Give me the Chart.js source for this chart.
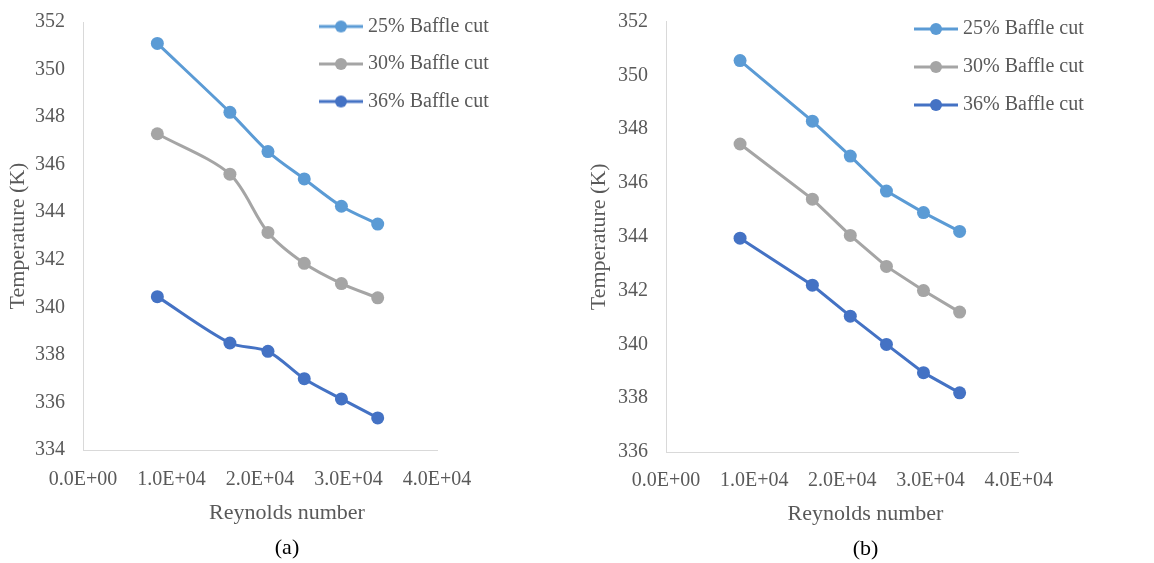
<!DOCTYPE html>
<html>
<head>
<meta charset="utf-8">
<script src="https://cdn.jsdelivr.net/npm/chart.js@4.4.1/dist/chart.umd.min.js"></script>
<style>
  body { margin: 0; background: #fff; width: 1154px; height: 563px; overflow: hidden; position: relative; }
  canvas { position: absolute; top: 0; }
  #chartA { left: 0; }
  #chartB { left: 577px; }
</style>
</head>
<body>
<canvas id="chartA" width="574" height="563"></canvas>
<canvas id="chartB" width="577" height="563"></canvas>
<script>
// Reynolds numbers (same for both panels)
const reynolds = [8400, 16600, 20900, 25000, 29200, 33300];
const seriesNames = ['25% Baffle cut', '30% Baffle cut', '36% Baffle cut'];
const seriesColors = ['#5B9BD5', '#A5A5A5', '#4472C4'];
const xTicks = [0, 10000, 20000, 30000, 40000];

// panel (a)
const tempA25 = [351.1, 348.2, 346.55, 345.4, 344.25, 343.5];
const tempA30 = [347.3, 345.6, 343.15, 341.85, 341.0, 340.4];
const tempA36 = [340.45, 338.5, 338.15, 337.0, 336.15, 335.35];
const yTicksA = [334, 336, 338, 340, 342, 344, 346, 348, 350, 352];

// panel (b)
const tempB25 = [350.55, 348.3, 347.0, 345.7, 344.9, 344.2];
const tempB30 = [347.45, 345.4, 344.05, 342.9, 342.0, 341.2];
const tempB36 = [343.95, 342.2, 341.05, 340.0, 338.95, 338.2];
const yTicksB = [336, 338, 340, 342, 344, 346, 348, 350, 352];

const FONT = "'Liberation Serif', 'Times New Roman', serif";
const GREY = '#595959';

function sci(v) {
  if (v === 0) return '0.0E+00';
  const e = Math.floor(Math.log10(Math.abs(v)));
  return (v / Math.pow(10, e)).toFixed(1) + 'E+' + String(e).padStart(2, '0');
}

function legendMark(color) {
  const c = document.createElement('canvas');
  c.width = 44; c.height = 14;
  const g = c.getContext('2d');
  g.strokeStyle = color; g.lineWidth = 3;
  g.beginPath(); g.moveTo(0, 7); g.lineTo(44, 7); g.stroke();
  g.fillStyle = color;
  g.beginPath(); g.arc(22, 7, 6, 0, Math.PI * 2); g.fill();
  return c;
}
const marks = seriesColors.map(legendMark);

// put the legend where the original has it (it overlaps the plot's right edge)
const moveLegend = {
  id: 'moveLegend',
  afterLayout(chart, args, opts) {
    const lg = chart.legend;
    if (!lg) return;
    const w = lg.width, h = lg.height;
    lg.left = opts.x; lg.top = opts.y;
    lg.right = opts.x + w; lg.bottom = opts.y + h;
  }
};

function makeChart(id, p) {
  const datasets = p.series.map((vals, i) => ({
    label: seriesNames[i],
    data: reynolds.map((r, j) => ({ x: r, y: vals[j] })),
    borderColor: seriesColors[i],
    backgroundColor: seriesColors[i],
    borderWidth: 3,
    pointRadius: 6.5,
    pointBorderWidth: 0,
    pointBackgroundColor: seriesColors[i],
    tension: p.tension
  }));

  return new Chart(document.getElementById(id), {
    type: 'line',
    data: { datasets },
    plugins: [moveLegend],
    options: {
      responsive: false,
      animation: false,
      layout: { padding: { top: p.padTop, left: 0, right: 0, bottom: p.padBottom } },
      scales: {
        x: {
          type: 'linear', min: 0, max: 40000,
          afterBuildTicks: s => { s.ticks = xTicks.map(v => ({ value: v })); },
          ticks: { color: GREY, font: { family: FONT, size: 20 }, padding: 0,
                   maxRotation: 0, autoSkip: false, callback: v => sci(v) },
          grid: { display: false, drawTicks: true, tickLength: p.xTickPad },
          border: { color: '#D9D9D9', width: 1 },
          afterFit: s => { s.height = p.xAxisH; }
        },
        y: {
          min: p.yTicks[0], max: p.yTicks[p.yTicks.length - 1],
          afterBuildTicks: s => { s.ticks = p.yTicks.map(v => ({ value: v })); },
          ticks: { color: GREY, font: { family: FONT, size: 20 }, padding: 0 },
          grid: { display: false, drawTicks: true, tickLength: 18 },
          border: { color: '#D9D9D9', width: 1 },
          title: { display: true, text: 'Temperature (K)', color: GREY,
                   font: { family: FONT, size: 22 }, padding: { top: p.yTitlePad, bottom: 0 } },
          afterFit: s => { s.width = p.yAxisW; }
        },
        pad: {
          type: 'linear', position: 'right', display: true,
          ticks: { display: false }, grid: { display: false, drawTicks: false },
          border: { display: false },
          afterFit: s => { s.width = p.padRight; }
        }
      },
      plugins: {
        legend: {
          position: 'chartArea', align: 'start',
          labels: {
            usePointStyle: true, pointStyleWidth: 34, padding: p.legendPad,
            color: GREY, font: { family: FONT, size: 20 },
            generateLabels: chart => chart.data.datasets.map((ds, i) => ({
              text: ds.label, pointStyle: marks[i], fillStyle: ds.borderColor,
              strokeStyle: 'transparent', lineWidth: 0, fontColor: GREY,
              hidden: false, datasetIndex: i
            }))
          }
        },
        moveLegend: { x: p.legendX, y: p.legendY },
        subtitle: { display: true, position: 'bottom', text: 'Reynolds number', color: GREY,
                    font: { family: FONT, size: 22, weight: 'normal' }, padding: 0 },
        title: { display: true, position: 'bottom', text: p.caption, color: '#000',
                 font: { family: FONT, size: 22, weight: 'normal' }, padding: { top: 9, bottom: 0 } },
        tooltip: { enabled: false }
      }
    }
  });
}

makeChart('chartA', {
  series: [tempA25, tempA30, tempA36], yTicks: yTicksA, tension: 0.3,
  padTop: 22, padBottom: 1.2, xAxisH: 50, xTickPad: 18, yAxisW: 83, padRight: 137,
  yTitlePad: 5, legendPad: 17.5, legendX: 306.5, legendY: -1, caption: '(a)'
});

makeChart('chartB', {
  series: [tempB25, tempB30, tempB36], yTicks: yTicksB, tension: 0,
  padTop: 21.6, padBottom: 0.2, xAxisH: 49, xTickPad: 17, yAxisW: 89, padRight: 135.3,
  yTitlePad: 9, legendPad: 18, legendX: 324, legendY: 1, caption: '(b)'
});
</script>
</body>
</html>
